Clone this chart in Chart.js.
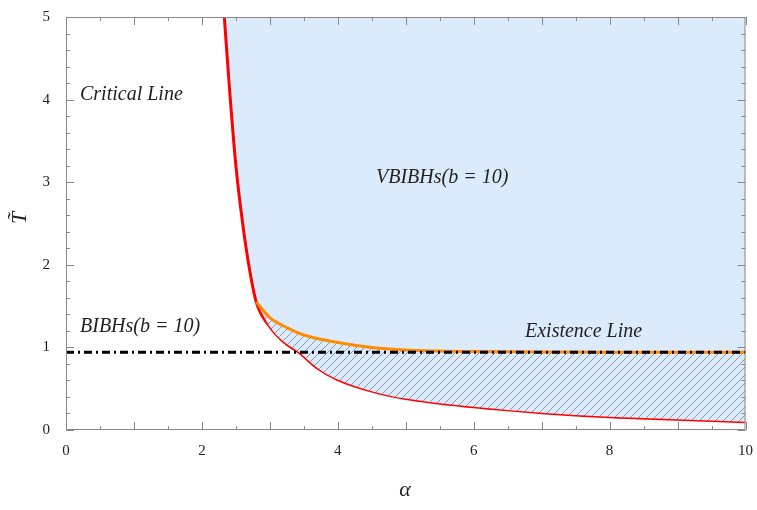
<!DOCTYPE html>
<html>
<head>
<script src="https://cdn.jsdelivr.net/npm/chart.js@4"></script>
<style>body{margin:0;background:#fff}#wrap{width:757px;height:510px}</style>
</head>
<body>
<div id="wrap"><canvas id="chart"></canvas></div>
<script>
// critical line (red)
const redX = [2.33, 2.4, 2.5, 2.6, 2.7, 2.8, 3.0, 3.2, 3.43, 3.7, 4, 4.5, 5, 6, 7, 8, 9, 10];
const redY = [5, 4.2, 3.2, 2.5, 1.95, 1.55, 1.25, 1.07, 0.94, 0.75, 0.61, 0.47, 0.38, 0.28, 0.21, 0.16, 0.13, 0.1];
// existence line (orange)
const orangeX = [2.8, 3, 3.25, 3.5, 4, 4.5, 5, 6, 7, 8, 9, 10];
const orangeY = [1.55, 1.36, 1.24, 1.15, 1.06, 1.0, 0.97, 0.95, 0.945, 0.94, 0.94, 0.94];
// BIBHs temperature line
const dashX = [0, 10];
const dashY = [0.94, 0.94];
const xTicks = [0, 2, 4, 6, 8, 10];
const yTicks = [0, 1, 2, 3, 4, 5];

const pts = (xs, ys) => xs.map((x, i) => ({ x: x, y: ys[i] }));

const hc = document.createElement("canvas");
hc.width = 8; hc.height = 8;
const hx = hc.getContext("2d");
hx.fillStyle = "#dcebfc";
hx.fillRect(0, 0, 8, 8);
hx.strokeStyle = "#667788";
hx.lineWidth = 0.7;
hx.beginPath();
hx.moveTo(0, 8); hx.lineTo(8, 0);
hx.moveTo(-1, 1); hx.lineTo(1, -1);
hx.moveTo(7, 9); hx.lineTo(9, 7);
hx.stroke();
const hatch = hx.createPattern(hc, "repeat");

const serif = "'Liberation Serif', serif";

const extras = {
  id: "extras",
  afterDraw(c) {
    const ctx = c.ctx, a = c.chartArea, xs = c.scales.x, ys = c.scales.y;
    ctx.save();
    ctx.strokeStyle = "#888";
    ctx.lineWidth = 1;
    ctx.strokeRect(a.left + 0.5, a.top + 0.5, a.right - a.left - 1, a.bottom - a.top - 1);
    ctx.beginPath();
    for (let v = 0; v <= 10.001; v += 0.5) {
      const p = Math.round(xs.getPixelForValue(v)) + 0.5;
      const L = Number.isInteger(v) ? 8 : 4;
      ctx.moveTo(p, a.bottom); ctx.lineTo(p, a.bottom - L);
      ctx.moveTo(p, a.top); ctx.lineTo(p, a.top + L);
    }
    for (let v = 0; v <= 5.001; v += 0.2) {
      const p = Math.round(ys.getPixelForValue(v)) + 0.5;
      const L = Math.abs(v - Math.round(v)) < 0.01 ? 8 : 4;
      ctx.moveTo(a.left, p); ctx.lineTo(a.left + L, p);
      ctx.moveTo(a.right, p); ctx.lineTo(a.right - L, p);
    }
    ctx.stroke();
    ctx.fillStyle = "#222";
    ctx.font = "italic 20px " + serif;
    ctx.textBaseline = "middle";
    ctx.fillText("Critical Line", 80, 95);
    ctx.fillText("VBIBHs(b = 10)", 376, 178);
    ctx.fillText("BIBHs(b = 10)", 80, 327);
    ctx.fillText("Existence Line", 525, 332);
    ctx.font = "italic 22px " + serif;
    ctx.textAlign = "center";
    ctx.fillText("α", 405, 490);
    ctx.save();
    ctx.translate(20, 218);
    ctx.rotate(-Math.PI / 2);
    ctx.fillText("T̃", 0, 0);
    ctx.restore();
    ctx.restore();
  }
};

new Chart(document.getElementById("chart"), {
  type: "scatter",
  data: {
    datasets: [
      { data: pts(redX, redY), showLine: true, borderColor: "#ff0000", borderWidth: 3, pointRadius: 0, cubicInterpolationMode: "monotone", fill: "end", backgroundColor: "#dcebfc", order: 3 },
      { data: pts(orangeX, orangeY), showLine: true, borderColor: "#ff8c00", borderWidth: 3, pointRadius: 0, cubicInterpolationMode: "monotone", fill: false, order: 2 },
      { data: pts(redX.slice(5), redY.slice(5)), showLine: true, borderWidth: 0, borderColor: "rgba(0,0,0,0)", pointRadius: 0, cubicInterpolationMode: "monotone", fill: 1, backgroundColor: hatch, order: 2.5 },
      { data: pts(dashX, dashY), showLine: true, borderColor: "#000", borderWidth: 3, borderDash: [8, 4, 2, 4], pointRadius: 0, fill: false, order: 1 }
    ]
  },
  options: {
    responsive: true,
    maintainAspectRatio: false,
    animation: false,
    layout: { padding: { top: 5, right: 10 } },
    plugins: { legend: { display: false }, tooltip: { enabled: false } },
    scales: {
      x: {
        type: "linear", min: 0, max: 10,
        afterFit: s => { s.height = 80; },
        afterBuildTicks: s => { s.ticks = xTicks.map(v => ({ value: v })); },
        grid: { display: false },
        border: { display: false },
        ticks: { color: "#222", font: { family: serif, size: 15 }, padding: 4 }
      },
      y: {
        min: 0, max: 5,
        afterFit: s => { s.width = 66; },
        afterBuildTicks: s => { s.ticks = yTicks.map(v => ({ value: v })); },
        grid: { display: false },
        border: { display: false },
        ticks: { color: "#222", font: { family: serif, size: 15 }, padding: 8 }
      }
    }
  },
  plugins: [extras]
});
</script>
</body>
</html>
